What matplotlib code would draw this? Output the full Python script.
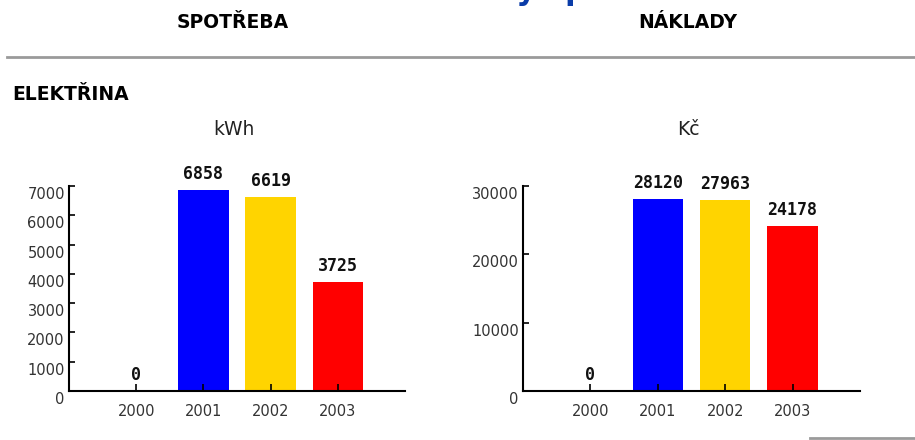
import matplotlib
matplotlib.use('Agg')
from matplotlib import pyplot as plt
from matplotlib.lines import Line2D
import matplotlib.transforms as mtransforms
import numpy as np

# data
years = ['2000', '2001', '2002', '2003']
spotreba_kwh = [0, 6858, 6619, 3725]
naklady_kc = [0, 28120, 27963, 24178]
bar_colors = ['#0000ff', '#0000ff', '#ffd400', '#ff0000']
kwh_ticks = [0, 1000, 2000, 3000, 4000, 5000, 6000, 7000]
kc_ticks = [0, 10000, 20000, 30000]

fig = plt.figure(figsize=(9.15, 4.4), dpi=100)

# header texts
fig.text(233/915, 1-23/440, 'SPOTŘEBA', ha='center', va='center', fontsize=13.5,
         fontweight='bold', color='black')
fig.text(688/915, 1-23/440, 'NÁKLADY', ha='center', va='center', fontsize=13.5,
         fontweight='bold', color='black')
# page title cut off by the top edge, only the descenders show
fig.text(384/915, 1.0, 'Přehledy spotřeb', ha='left', va='baseline',
         fontsize=22, fontweight='bold', color='#0a3ca8')

fig.add_artist(Line2D([7/915, 1.0], [1-57/440, 1-57/440], transform=fig.transFigure,
                      color='#9a9a9a', lw=2))
fig.add_artist(Line2D([810/915, 1.0], [1-438/440, 1-438/440], transform=fig.transFigure,
                      color='#9a9a9a', lw=2))

fig.text(12/915, 1-94/440, 'ELEKTŘINA', ha='left', va='center', fontsize=13.5,
         fontweight='bold', color='black')
fig.text(234/915, 1-129/440, 'kWh', ha='center', va='center', fontsize=13.5,
         color='#222222')
fig.text(688/915, 1-129/440, 'Kč', ha='center', va='center', fontsize=13.5,
         color='#222222')


def draw_panel(rect, values, ticks):
    ax = fig.add_axes(rect)
    x = np.arange(len(years))
    ax.bar(x, values, width=0.75, color=bar_colors)
    for xi, v in zip(x, values):
        ax.annotate(str(v), (xi, v), xytext=(0, 5), textcoords='offset points',
                    ha='center', va='bottom', fontsize=12, fontweight='bold',
                    family='DejaVu Sans Mono', color='#111111')
    ax.set_xlim(-1, 4)
    ax.set_ylim(0, ticks[-1])
    ax.set_xticks(x)
    ax.set_xticklabels(years)
    ax.set_yticks(ticks)
    ax.set_yticklabels([str(t) for t in ticks])
    ax.spines['top'].set_visible(False)
    ax.spines['right'].set_visible(False)
    ax.spines['left'].set_linewidth(1.5)
    ax.spines['bottom'].set_linewidth(1.5)
    ax.tick_params(axis='x', direction='in', length=5, width=1.2, pad=9,
                   labelsize=10.5, labelcolor='#333333')
    ax.tick_params(axis='y', direction='in', length=4, width=1.2, pad=3,
                   labelsize=10.5, labelcolor='#333333')
    off = mtransforms.ScaledTranslation(0, -5/72, fig.dpi_scale_trans)
    for lab in ax.get_yticklabels():
        lab.set_transform(lab.get_transform() + off)
    return ax


draw_panel([69/915, 1-391/440, 336/915, 205/440], spotreba_kwh, kwh_ticks)
draw_panel([523/915, 1-391/440, 337/915, 205/440], naklady_kc, kc_ticks)

fig.savefig('out.png', dpi=100)
